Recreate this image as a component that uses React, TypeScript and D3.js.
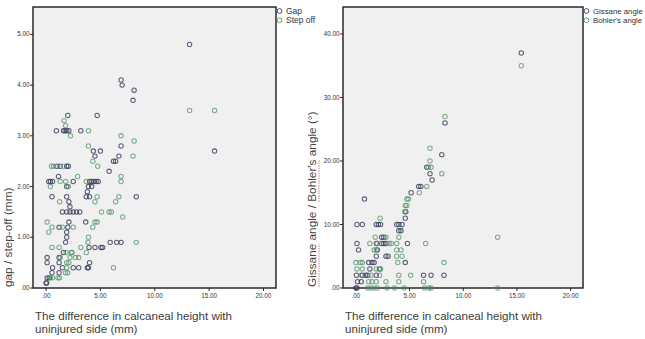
import * as d3 from "d3";

// left panel: gap / step-off (mm) vs height difference (mm)
const gapPoints: [number, number][] = [
  [13.2, 4.8], [6.9, 4.1], [7.0, 4.0], [8.1, 3.9], [8.0, 3.7], [15.5, 2.7],
  [2.0, 3.4], [4.7, 3.4],
  [0.95, 3.1], [1.6, 3.1], [1.75, 3.1], [1.9, 3.1], [2.1, 3.1], [3.2, 3.1],
  [6.9, 2.8], [4.35, 2.7], [5.0, 2.7], [4.5, 2.6], [6.7, 2.6], [6.2, 2.5], [6.4, 2.5], [5.8, 2.3],
  [1.0, 2.4], [1.3, 2.4], [1.9, 2.4], [2.05, 2.4],
  [1.15, 2.2], [0.25, 2.1], [0.4, 2.1], [0.6, 2.1], [2.5, 2.1], [4.0, 2.1], [4.2, 2.1], [4.4, 2.1], [4.6, 2.1], [4.8, 2.1],
  [1.9, 2.0], [3.9, 2.0], [4.2, 2.0], [3.8, 1.9],
  [0.55, 1.8], [1.9, 1.8], [3.7, 1.8], [4.0, 1.8], [8.3, 1.8],
  [2.1, 1.7], [2.2, 1.6],
  [1.5, 1.5], [1.9, 1.5], [2.2, 1.5], [2.5, 1.5], [2.8, 1.5], [3.1, 1.5],
  [2.1, 1.3], [3.65, 1.3],
  [1.2, 1.2], [2.0, 1.2], [1.9, 1.1], [1.9, 1.0], [1.8, 0.9],
  [5.9, 0.9], [6.5, 0.9], [6.9, 0.9],
  [3.95, 0.8], [4.5, 0.8], [5.05, 0.8], [5.2, 0.8],
  [0.1, 0.6], [0.1, 0.5], [1.2, 0.5], [4.0, 0.5], [1.6, 0.7], [1.2, 0.6],
  [0.6, 0.4], [2.5, 0.4], [3.0, 0.4], [3.8, 0.4], [3.9, 0.4], [1.5, 0.4],
  [0.55, 0.3], [1.2, 0.3],
  [0.1, 0.2], [0.3, 0.2], [0.0, 0.1], [0.05, 0.1],
];

const stepOffPoints: [number, number][] = [
  [13.2, 3.5], [15.5, 3.5],
  [1.65, 3.3], [1.8, 3.2], [3.9, 3.1], [2.25, 3.0], [6.9, 3.0], [8.1, 2.9], [8.0, 2.6], [3.9, 2.8],
  [4.3, 2.5], [4.75, 2.4], [0.5, 2.4], [0.7, 2.4], [1.6, 2.4],
  [2.9, 2.2], [6.9, 2.2],
  [1.3, 2.1], [1.8, 2.1], [3.7, 2.1], [6.9, 2.1], [0.4, 2.0], [2.05, 2.0],
  [4.7, 1.8], [6.7, 1.8], [1.25, 1.7], [4.5, 1.7], [6.4, 1.7],
  [5.1, 1.5], [5.8, 1.5], [6.0, 1.5],
  [0.1, 1.3], [4.5, 1.3], [4.7, 1.3], [7.05, 1.4], [4.3, 1.2],
  [0.55, 1.2], [1.5, 1.2], [2.5, 1.2], [0.25, 1.1], [3.9, 1.0], [3.85, 0.9], [8.3, 0.9],
  [0.55, 0.8], [1.2, 0.8], [3.2, 0.8],
  [1.85, 0.7], [2.3, 0.7], [2.4, 0.7], [3.7, 0.7],
  [1.3, 0.6], [2.2, 0.6], [2.7, 0.6], [3.0, 0.6],
  [1.9, 0.5], [2.1, 0.5], [1.9, 0.4], [6.2, 0.4],
  [1.8, 0.3], [2.0, 0.3], [0.4, 0.2], [1.25, 0.2], [1.1, 0.2], [0.6, 0.2],
];

// right panel: angles (deg) vs height difference (mm)
const gissanePoints: [number, number][] = [
  [15.4, 37], [8.3, 26], [8.0, 21], [6.6, 19], [6.9, 18], [7.1, 17], [5.85, 16], [6.05, 16],
  [5.15, 15], [0.8, 14], [4.65, 12], [4.6, 11],
  [0.1, 10], [0.6, 10], [1.9, 10], [2.1, 10], [2.3, 10], [3.8, 10], [4.0, 10], [4.3, 10], [4.0, 9], [4.2, 9],
  [2.4, 8], [2.6, 8], [0.1, 7], [1.9, 7], [2.4, 7], [2.6, 7], [2.8, 7], [4.8, 7],
  [0.25, 6], [2.0, 6], [1.9, 5], [2.8, 5], [3.0, 5], [1.2, 4], [1.5, 4], [1.7, 4], [4.6, 4],
  [1.3, 3], [0.05, 2], [0.6, 2], [0.9, 2], [1.1, 2], [1.9, 2], [6.3, 2], [7.0, 2], [8.2, 2],
  [0.15, 1], [0.5, 1], [0.0, 0], [0.1, 0], [2.2, 3],
];

const bohlerPoints: [number, number][] = [
  [15.4, 35], [8.3, 27], [6.9, 22], [6.9, 20], [6.75, 19], [7.0, 19], [8.0, 18], [6.6, 16],
  [5.9, 15], [4.75, 14], [4.9, 14], [4.6, 13], [4.75, 13], [4.55, 12], [2.25, 11], [4.1, 9.5],
  [1.8, 8], [2.8, 8], [4.0, 8], [13.2, 8], [1.3, 7], [2.0, 7], [3.1, 7], [3.3, 7], [3.8, 7], [6.5, 7],
  [1.7, 6], [1.9, 6], [3.8, 6], [4.2, 6], [3.8, 5], [4.3, 5],
  [0.0, 4], [0.4, 4], [0.6, 4], [3.9, 4], [8.2, 4],
  [0.1, 3], [0.6, 3], [1.9, 3], [2.3, 3],
  [0.5, 2], [1.4, 2], [2.2, 2], [4.0, 2], [5.1, 2],
  [1.2, 1], [1.5, 1], [1.9, 1], [2.8, 1], [4.0, 1], [6.3, 1],
  [1.1, 0], [1.4, 0], [1.7, 0], [2.0, 0], [2.9, 0], [3.6, 0], [4.5, 0], [6.4, 0], [6.8, 0], [7.0, 0], [13.2, 0],
];

const xTicks = [0, 5, 10, 15, 20];
const leftYTicks = [0, 1, 2, 3, 4, 5];
const rightYTicks = [0, 10, 20, 30, 40];
const leftLegend = ["Gap", "Step off"];
const rightLegend = ["Gissane angle", "Bohler's angle"];
const xLabel = ["The difference in calcaneal height with", "uninjured side (mm)"];

const darkColor = "#35365a";
const greenColor = "#4f9266";
const font = "'Liberation Sans', Arial, sans-serif";

const fmt = (v: number) => (v === 0 ? ".00" : v.toFixed(2));

type PanelProps = {
  left: number;
  right: number;
  yMax: number;
  yTicks: number[];
  series: [number, number][][];
  legend: string[];
  legendSize: number;
  yLabel: string;
  yLabelX: number;
  underlines?: [number, number][];
};

function Panel({ left, right, yMax, yTicks, series, legend, legendSize, yLabel, yLabelX, underlines }: PanelProps) {
  const top = 7;
  const bottom = 288;
  const x = d3.scaleLinear().domain([-1.2, 21.15]).range([left, right]);
  const y = d3.scaleLinear().domain([0, yMax]).range([bottom, top]);
  const colors = [darkColor, greenColor];
  const fs = 11.8;

  return (
    <g>
      <rect x={left} y={top} width={right - left} height={bottom - top} fill="#f0f0f0" stroke="#2a2a2a" strokeWidth={1.5} />
      {yTicks.map((t) => (
        <g key={t}>
          <line x1={left - 3} x2={left} y1={y(t)} y2={y(t)} stroke="#2a2a2a" strokeWidth={1} />
          <text x={left - 3.5} y={y(t)} dy="0.33em" textAnchor="end" fontSize={6.3} fill="#333" fontFamily={font}>
            {fmt(t)}
          </text>
        </g>
      ))}
      {xTicks.map((t) => (
        <g key={t}>
          <line x1={x(t)} x2={x(t)} y1={bottom} y2={bottom + 3} stroke="#2a2a2a" strokeWidth={1} />
          <text x={x(t)} y={bottom + 10} textAnchor="middle" fontSize={6.3} fill="#333" fontFamily={font}>
            {fmt(t)}
          </text>
        </g>
      ))}
      {series.map((pts, si) => (
        <g key={si}>
          {pts.map((p, i) => (
            <circle
              key={i}
              cx={x(p[0])}
              cy={y(p[1])}
              r={2.2}
              fill="none"
              stroke={colors[si]}
              strokeWidth={1.05}
              strokeOpacity={si === 0 ? 0.78 : 0.72}
            />
          ))}
        </g>
      ))}
      {legend.map((name, i) => (
        <g key={name}>
          <circle cx={right + 3.5} cy={11 + i * 9.3} r={2.4} fill="none" stroke={colors[i]} strokeWidth={0.9} />
          <text x={right + 10} y={14 + i * 9.3} fontSize={legendSize} fill="#333" fontFamily={font}>
            {name}
          </text>
        </g>
      ))}
      <text
        transform={`translate(${yLabelX},${bottom - 1}) rotate(-90)`}
        fontSize={fs}
        fill="#444"
        fontFamily={font}
      >
        {yLabel}
      </text>
      {underlines?.map(([a, b], i) => (
        <line
          key={i}
          x1={yLabelX + 3}
          x2={yLabelX + 3}
          y1={bottom - 1 - a * fs}
          y2={bottom - 1 - b * fs}
          stroke="#d05050"
          strokeWidth={1}
          strokeDasharray="1.5 1"
          opacity={0.75}
        />
      ))}
      {xLabel.map((line, i) => (
        <text key={i} x={left + 2} y={320 + i * 13} fontSize={11.6} fill="#3c3c3c" fontFamily={font}>
          {line}
        </text>
      ))}
    </g>
  );
}

export default function App() {
  return (
    <svg width={645} height={339} style={{ position: "absolute", left: 0, top: 0, background: "#fff" }}>
      <Panel
        left={33}
        right={276}
        yMax={5.54}
        yTicks={leftYTicks}
        series={[gapPoints, stepOffPoints]}
        legend={leftLegend}
        legendSize={8.5}
        yLabel="gap / step-off (mm)"
        yLabelX={12}
      />
      <Panel
        left={343}
        right={583}
        yMax={44.25}
        yTicks={rightYTicks}
        series={[gissanePoints, bohlerPoints]}
        legend={rightLegend}
        legendSize={7.8}
        yLabel="Gissane angle / Bohler's angle (°)"
        yLabelX={316}
        underlines={[
          [0, 3.67],
          [7.23, 10.81],
        ]}
      />
    </svg>
  );
}
